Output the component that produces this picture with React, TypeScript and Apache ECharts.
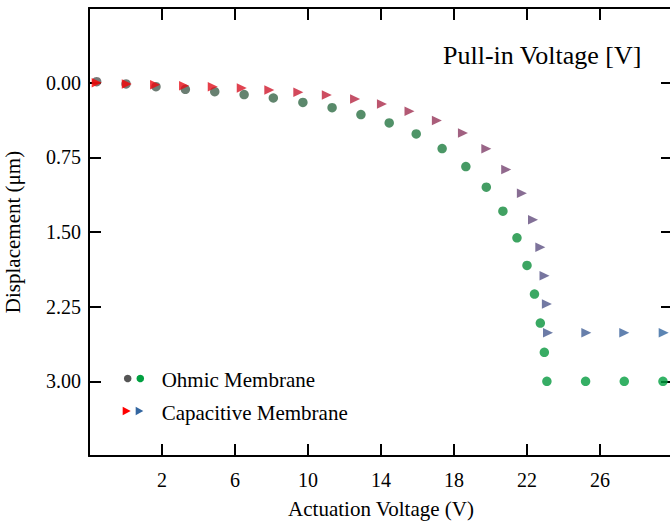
import React, { useEffect, useRef } from 'react';
import * as echarts from 'echarts';

// Ohmic membrane (circles)
const ohmicVoltage = [-1.58, 0.03, 1.67, 3.28, 4.89, 6.5, 8.1, 9.72, 11.32, 12.9, 14.45, 15.93, 17.35, 18.65, 19.77, 20.68, 21.45, 22.0, 22.41, 22.73, 22.95, 23.09, 25.21, 27.33, 29.45];
const ohmicDisp = [-0.01, 0.013, 0.04, 0.067, 0.09, 0.12, 0.154, 0.198, 0.251, 0.321, 0.404, 0.515, 0.662, 0.843, 1.05, 1.291, 1.558, 1.836, 2.124, 2.415, 2.709, 3.0, 3.0, 3.0, 3.0];
// Capacitive membrane (triangles)
const capVoltage = [-1.58, 0.07, 1.62, 3.21, 4.78, 6.37, 7.88, 9.47, 11.03, 12.58, 14.05, 15.56, 17.06, 18.49, 19.77, 20.86, 21.72, 22.33, 22.73, 22.96, 23.09, 23.15, 25.25, 27.33, 29.49];
const capDisp = [0.0, 0.013, 0.02, 0.03, 0.04, 0.053, 0.073, 0.097, 0.123, 0.164, 0.214, 0.288, 0.381, 0.505, 0.665, 0.873, 1.111, 1.378, 1.652, 1.939, 2.224, 2.511, 2.511, 2.511, 2.511];

const xTicks = [2, 6, 10, 14, 18, 22, 26];
const yTicks = [0, 0.75, 1.5, 2.25, 3.0];

const ohmicColors = ['#555555', '#2e6d45', '#0d8d3a', '#00a040'];
const capColors = ['#ff0000', '#c0203a', '#6a4878', '#3366a0'];

const serif = 'Liberation Serif';

export default function App() {
  const ref = useRef<HTMLDivElement>(null);
  useEffect(() => {
    if (!ref.current) return;
    const chart = echarts.init(ref.current, null, { renderer: 'svg' });
    const ohmicData = ohmicVoltage.map((x, i) => [x, ohmicDisp[i], i]);
    const capData = capVoltage.map((x, i) => [x, capDisp[i], i]);
    const axisLine = { show: true, onZero: false, lineStyle: { color: '#000', width: 2 } };
    const tickStyle = { color: '#000', width: 2 };
    const option: any = {
      animation: false,
      textStyle: { fontFamily: serif },
      grid: { left: 89, top: 8, width: 584, height: 448, containLabel: false, outerBoundsMode: 'none' },
      xAxis: [
        {
          type: 'value', min: -2, max: 30, position: 'bottom',
          name: 'Actuation Voltage (V)', nameLocation: 'middle', nameGap: 42,
          nameTextStyle: { fontFamily: serif, fontSize: 21, color: '#000' },
          axisLine,
          axisTick: { show: true, inside: true, length: 12, lineStyle: tickStyle, customValues: xTicks },
          axisLabel: { show: true, customValues: xTicks, fontFamily: serif, fontSize: 20, color: '#000', margin: 14 },
          splitLine: { show: false },
        },
        {
          type: 'value', min: -2, max: 30, position: 'top',
          axisLine,
          axisTick: { show: true, inside: true, length: 12, lineStyle: tickStyle, customValues: xTicks },
          axisLabel: { show: false },
          splitLine: { show: false },
        },
      ],
      yAxis: [
        {
          type: 'value', inverse: true, min: -0.75, max: 3.75, position: 'left',
          name: 'Displacement (μm)', nameLocation: 'middle', nameGap: 66, nameRotate: 90,
          nameTextStyle: { fontFamily: serif, fontSize: 21, color: '#000' },
          axisLine,
          axisTick: { show: true, inside: true, length: 12, lineStyle: tickStyle, customValues: yTicks },
          axisLabel: {
            show: true, customValues: yTicks, fontFamily: serif, fontSize: 20, color: '#000', margin: 8,
            formatter: (v: number) => v.toFixed(2),
          },
          splitLine: { show: false },
        },
        {
          type: 'value', inverse: true, min: -0.75, max: 3.75, position: 'right',
          axisLine,
          axisTick: { show: true, inside: true, length: 12, lineStyle: tickStyle, customValues: yTicks },
          axisLabel: { show: false },
          splitLine: { show: false },
        },
      ],
      visualMap: [
        { type: 'continuous', show: false, seriesIndex: 0, dimension: 2, min: 0, max: ohmicVoltage.length - 1, inRange: { color: ohmicColors } },
        { type: 'continuous', show: false, seriesIndex: 1, dimension: 2, min: 0, max: capVoltage.length - 1, inRange: { color: capColors } },
      ],
      series: [
        {
          name: 'Ohmic Membrane', type: 'scatter', symbol: 'circle', symbolSize: 9.5,
          data: ohmicData, z: 2,
        },
        {
          name: 'Capacitive Membrane', type: 'scatter', symbol: 'triangle', symbolSize: [9.5, 10], symbolRotate: -90,
          data: capData, z: 3,
        },
      ],
      graphic: [
        {
          type: 'text', left: 443, top: 42, z: 10,
          style: { text: 'Pull-in Voltage [V]', fontFamily: serif, fontSize: 26, fill: '#000' },
        },
        { type: 'circle', shape: { cx: 127.7, cy: 378.5, r: 3.8 }, style: { fill: ohmicColors[0] }, z: 10 },
        { type: 'circle', shape: { cx: 140.3, cy: 378.5, r: 3.8 }, style: { fill: ohmicColors[ohmicColors.length - 1] }, z: 10 },
        { type: 'polygon', shape: { points: [[122.7, 406.7], [130.7, 411], [122.7, 415.3]] }, style: { fill: capColors[0] }, z: 10 },
        { type: 'polygon', shape: { points: [[135.7, 406.7], [143.3, 411], [135.7, 415.3]] }, style: { fill: capColors[capColors.length - 1] }, z: 10 },
        {
          type: 'text', x: 161.7, y: 379.5, z: 10,
          style: { text: 'Ohmic Membrane', fontFamily: serif, fontSize: 21, fill: '#000', verticalAlign: 'middle' },
        },
        {
          type: 'text', x: 161.7, y: 412.5, z: 10,
          style: { text: 'Capacitive Membrane', fontFamily: serif, fontSize: 21, fill: '#000', verticalAlign: 'middle' },
        },
      ],
    };
    chart.setOption(option);
    return () => chart.dispose();
  }, []);
  return (
    <div style={{ position: 'absolute', left: 0, top: 0, width: 670, height: 523, overflow: 'hidden', background: '#fff' }}>
      <div ref={ref} style={{ width: 670, height: 523 }} />
    </div>
  );
}
